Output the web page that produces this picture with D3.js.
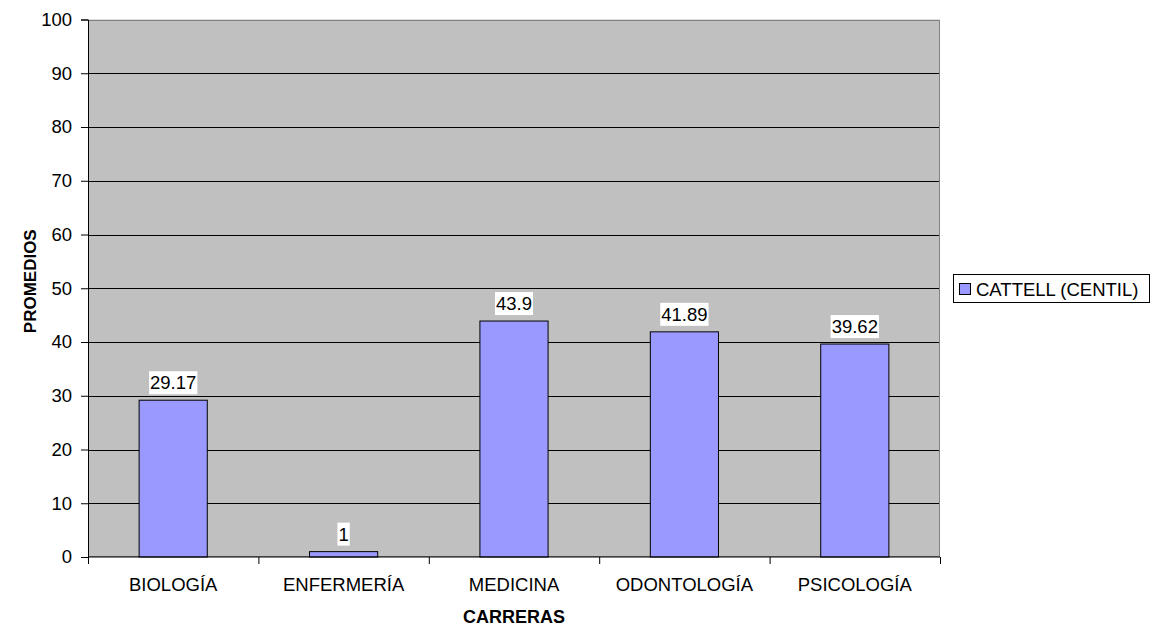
<!DOCTYPE html>
<html><head><meta charset="utf-8">
<script src="https://cdn.jsdelivr.net/npm/d3@7"></script>
<style>body{margin:0;background:#fff}svg{display:block;font-family:"Liberation Sans",Arial,sans-serif}</style>
</head><body>
<svg id="c" width="1158" height="628"></svg>
<script>
const categories = ["BIOLOGÍA","ENFERMERÍA","MEDICINA","ODONTOLOGÍA","PSICOLOGÍA"];
const values = [29.17, 1, 43.9, 41.89, 39.62];
const valueLabels = ["29.17","1","43.9","41.89","39.62"];
const yTicks = [0,10,20,30,40,50,60,70,80,90,100];
const seriesName = "CATTELL (CENTIL)";

const FS = 18.5;
const svg = d3.select("#c");
const L=88, R=940, T=19.5, B=557;
const x = d3.scaleBand().domain(categories).range([L,R]).paddingInner(0).paddingOuter(0);
const y = d3.scaleLinear().domain([0,100]).range([B,T]);

svg.append("rect").attr("x",L).attr("y",T).attr("width",R-L).attr("height",B-T).attr("fill","#C0C0C0");
// gridlines
svg.append("g").selectAll("line").data(yTicks.filter(d=>d>0)).join("line")
  .attr("x1",L).attr("x2",R).attr("y1",d=>Math.round(y(d))+0.5).attr("y2",d=>Math.round(y(d))+0.5)
  .attr("stroke","#000").attr("stroke-width",1);
// plot border
svg.append("rect").attr("x",L+0.5).attr("y",Math.round(T)+0.5).attr("width",R-L-1).attr("height",B-Math.round(T)-1)
  .attr("fill","none").attr("stroke","#808080").attr("stroke-width",1);

// bars
const bw = x.bandwidth()*0.4;
svg.append("g").selectAll("rect").data(values).join("rect")
  .attr("x",(d,i)=>x(categories[i])+x.bandwidth()/2-bw/2)
  .attr("y",d=>y(d)).attr("width",bw).attr("height",d=>B-y(d))
  .attr("fill","#9999FF").attr("stroke","#000").attr("stroke-width",1);

// data labels
const lg = svg.append("g");
values.forEach((v,i)=>{
  const cx = x(categories[i])+x.bandwidth()/2;
  const base = y(v)-11;
  const t = lg.append("text").attr("x",cx).attr("y",base).attr("text-anchor","middle")
    .attr("font-size",FS).text(valueLabels[i]);
  const bb = t.node().getBBox();
  lg.insert("rect","text").attr("x",bb.x-1).attr("y",base-18).attr("width",bb.width+2).attr("height",23).attr("fill","#fff");
});

// y axis
const ya = d3.axisLeft(y).tickValues(yTicks).tickSize(7).tickPadding(9).tickFormat(d3.format("d"));
svg.append("g").attr("transform",`translate(${L},0)`).call(ya)
  .attr("font-size",FS).attr("font-family","Liberation Sans, Arial, sans-serif")
  .call(g=>g.select(".domain").attr("stroke","#000"))
  .call(g=>g.selectAll(".tick line").attr("stroke","#000"))
  .call(g=>g.selectAll("text").attr("fill","#000"));

// x axis
const xg = svg.append("g").attr("transform",`translate(0,${B})`);
xg.append("line").attr("x1",L).attr("x2",R).attr("stroke","#000");
xg.selectAll("line.t").data(categories.concat([null])).join("line").attr("class","t")
  .attr("x1",(d,i)=>L+i*x.bandwidth()+0.5).attr("x2",(d,i)=>L+i*x.bandwidth()+0.5).attr("y1",0).attr("y2",7).attr("stroke","#000");
xg.selectAll("text").data(categories).join("text")
  .attr("x",d=>x(d)+x.bandwidth()/2).attr("y",34).attr("text-anchor","middle").attr("font-size",FS).text(d=>d);

// axis titles
svg.append("text").attr("x",(L+R)/2).attr("y",623).attr("text-anchor","middle").attr("font-size",18).attr("font-weight","bold").text("CARRERAS");
svg.append("text").attr("transform",`translate(36,${(T+B)/2-7}) rotate(-90)`).attr("text-anchor","middle").attr("font-size",17).attr("font-weight","bold").text("PROMEDIOS");

// legend
const leg = svg.append("g");
leg.append("rect").attr("x",953.5).attr("y",274.5).attr("width",196).attr("height",28).attr("fill","#fff").attr("stroke","#000");
leg.append("rect").attr("x",959.5).attr("y",283.5).attr("width",11).attr("height",11).attr("fill","#9999FF").attr("stroke","#000");
leg.append("text").attr("x",976).attr("y",296).attr("font-size",FS).text(seriesName);
</script>
</body></html>
